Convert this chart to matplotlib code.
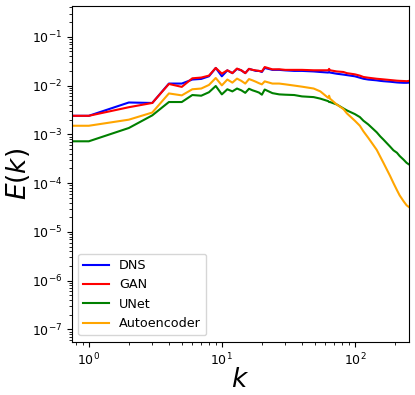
import numpy as np
import matplotlib
matplotlib.use("Agg")
import matplotlib.pyplot as plt

# wavenumbers (k=0 is clipped by the log axis, like the original spectrum)
k = [0, 1, 2, 3, 4, 5, 6, 7, 8, 9, 10, 11, 12, 13, 14, 15, 16, 17, 18, 19, 20, 21,
     24, 27, 30, 35, 40, 49, 55, 63, 64, 65, 73, 82, 87, 100, 109, 116, 126,
     146, 155, 164, 184, 195, 207, 217, 233, 245, 256]

E_dns = [2.4e-3, 2.4e-3, 4.5e-3, 4.4e-3, 1.1e-2, 1.1e-2, 1.33e-2, 1.37e-2, 1.55e-2, 2.3e-2, 1.55e-2,
         2.05e-2, 1.8e-2, 2.2e-2, 2.05e-2, 1.8e-2, 2.2e-2, 2.1e-2, 2.0e-2, 2.0e-2, 1.9e-2, 2.3e-2,
         2.1e-2, 2.1e-2, 2.05e-2, 2.0e-2, 2.0e-2, 1.95e-2, 1.9e-2, 1.85e-2, 1.9e-2, 1.85e-2,
         1.75e-2, 1.68e-2, 1.64e-2, 1.55e-2, 1.45e-2, 1.38e-2, 1.33e-2,
         1.28e-2, 1.25e-2, 1.23e-2, 1.2e-2, 1.18e-2, 1.16e-2, 1.15e-2, 1.14e-2, 1.14e-2, 1.15e-2]

E_gan = [2.4e-3, 2.4e-3, 3.6e-3, 4.4e-3, 1.08e-2, 9.4e-3, 1.41e-2, 1.46e-2, 1.6e-2, 2.3e-2, 1.76e-2,
         2.06e-2, 1.8e-2, 2.23e-2, 2.06e-2, 1.8e-2, 2.2e-2, 2.1e-2, 2.05e-2, 2.0e-2, 1.95e-2, 2.4e-2,
         2.15e-2, 2.16e-2, 2.1e-2, 2.1e-2, 2.1e-2, 2.06e-2, 2.06e-2, 2.06e-2, 2.2e-2, 2.06e-2,
         1.95e-2, 1.9e-2, 1.8e-2, 1.7e-2, 1.6e-2, 1.5e-2, 1.45e-2,
         1.38e-2, 1.36e-2, 1.34e-2, 1.3e-2, 1.28e-2, 1.26e-2, 1.25e-2, 1.24e-2, 1.23e-2, 1.25e-2]

E_unet = [7.2e-4, 7.2e-4, 1.35e-3, 2.45e-3, 4.6e-3, 4.6e-3, 6.4e-3, 6.2e-3, 7.3e-3, 9.8e-3, 6.6e-3,
          8.4e-3, 7.6e-3, 8.7e-3, 8.0e-3, 7.1e-3, 8.6e-3, 8.0e-3, 7.6e-3, 7.2e-3, 6.5e-3, 8.3e-3,
          7.0e-3, 6.6e-3, 6.5e-3, 6.4e-3, 6.0e-3, 5.8e-3, 5.4e-3, 4.8e-3, 4.6e-3, 4.6e-3,
          4.1e-3, 3.4e-3, 3.1e-3, 2.6e-3, 2.26e-3, 1.9e-3, 1.6e-3,
          1.1e-3, 9.1e-4, 7.8e-4, 5.6e-4, 4.7e-4, 4.2e-4, 3.6e-4, 3.0e-4, 2.6e-4, 2.4e-4]

E_ae = [1.5e-3, 1.5e-3, 2.0e-3, 2.8e-3, 6.9e-3, 6.3e-3, 8.4e-3, 8.7e-3, 1.03e-2, 1.43e-2, 1.01e-2,
        1.33e-2, 1.15e-2, 1.39e-2, 1.25e-2, 1.1e-2, 1.36e-2, 1.28e-2, 1.2e-2, 1.12e-2, 1.06e-2, 1.22e-2,
        1.1e-2, 1.1e-2, 1.06e-2, 1.0e-2, 9.5e-3, 8.7e-3, 7.6e-3, 5.6e-3, 6.2e-3, 5.4e-3,
        4.1e-3, 3.3e-3, 2.7e-3, 1.9e-3, 1.5e-3, 1.15e-3, 8.5e-4,
        4.8e-4, 3.5e-4, 2.6e-4, 1.4e-4, 1.0e-4, 7.2e-5, 5.6e-5, 4.2e-5, 3.5e-5, 3.2e-5]

fig = plt.figure(figsize=(4.15, 3.95), dpi=100)
ax = fig.add_axes([0.173, 0.135, 0.813, 0.85])

ax.plot(k, E_dns, color="blue", label="DNS")
ax.plot(k, E_gan, color="red", label="GAN")
ax.plot(k, E_unet, color="green", label="UNet")
ax.plot(k, E_ae, color="orange", label="Autoencoder")

ax.set_xscale("log")
ax.set_yscale("log")
ax.set_xlim(0.745, 256)
ax.set_ylim(5.6e-8, 0.43)
ax.tick_params(labelsize=9)
ax.set_xlabel("$k$", fontsize=19, labelpad=-1)
ax.set_ylabel("$E(k)$", fontsize=19, labelpad=0)
ax.legend(loc="lower left", fontsize=9.2)

fig.savefig("out.png", dpi=100)
